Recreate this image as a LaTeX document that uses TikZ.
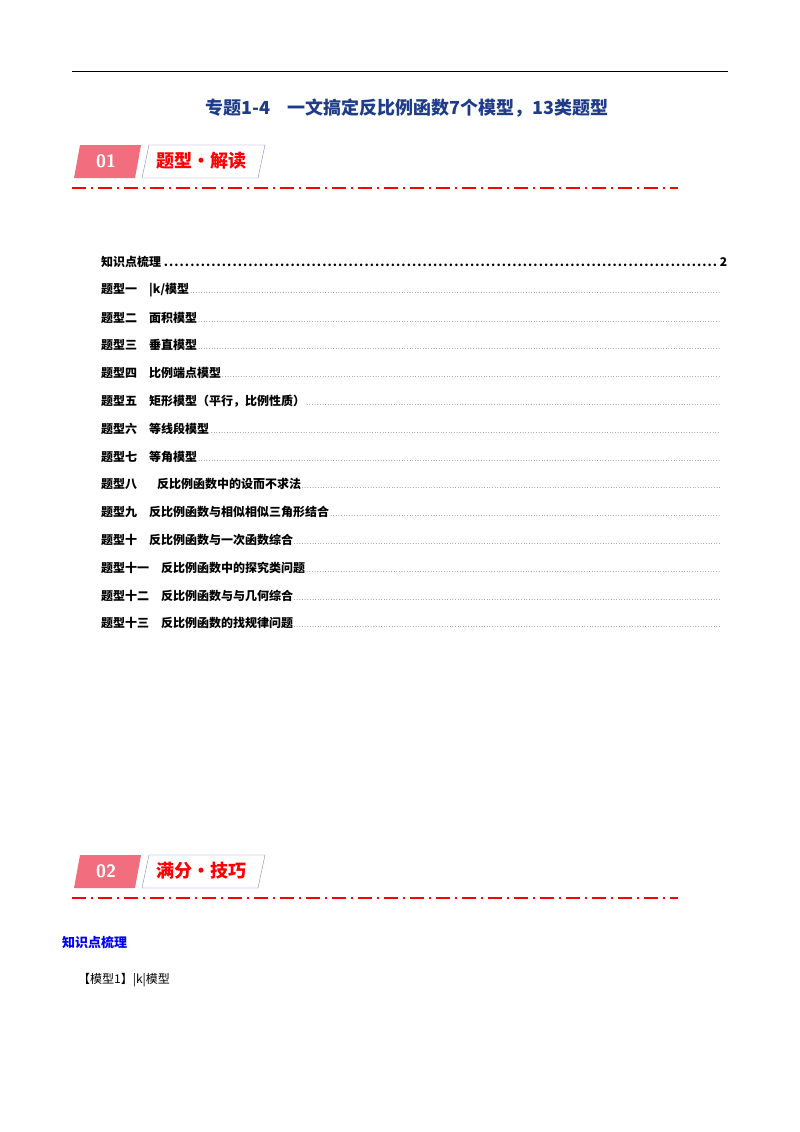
\documentclass[tikz,border=0pt]{standalone}
\usepackage{fontspec}
\newfontfamily\cjk{Noto Sans CJK SC}
\usetikzlibrary{positioning}
\definecolor{titleblue}{HTML}{1F3C88}
\definecolor{badgepink}{HTML}{F26D7D}
\definecolor{badgeedge}{HTML}{8A86C0}
\begin{document}
\begin{tikzpicture}[x=1pt,y=-1pt]
	\tikzstyle{entry}=[anchor=west, inner sep=0pt, font=\cjk\bfseries\fontsize{12}{14}\selectfont]
	\tikzstyle{redline}=[red, line width=1.6pt, dash pattern=on 14pt off 5pt on 2pt off 5pt]

	\useasboundingbox (0,0) rectangle (800,1132);
	\fill[white] (0,0) rectangle (800,1132);
	\draw[line width=1pt] (72,72) -- (728,72);
	\node (title) at (407,108) {\cjk\bfseries\fontsize{18}{21}\selectfont\color{titleblue}专题1-4\quad 一文搞定反比例函数7个模型，13类题型};

	% badges
	\foreach \y/\num/\lab in {145/01/题型•解读, 855/02/满分•技巧} {
		\fill[badgepink] (80,\y) -- (141,\y) -- (135,\y+33) -- (74,\y+33) -- cycle;
		\draw[badgeedge, fill=white] (149,\y) -- (265,\y) -- (258,\y+33) -- (142,\y+33) -- cycle;
		\node[white] at (106,\y+16) {\fontsize{18}{21}\selectfont\sffamily\bfseries\num};
		\node[red, anchor=west] at (153,\y+16) {\cjk\bfseries\fontsize{18}{21}\selectfont\lab};
		\draw[redline] (72,\y+43) -- (678,\y+43);
	}

	% contents
	\node[entry, text width=626pt] (toc0) at (101,262) {知识点梳理\dotfill 2};
	\foreach \a/\b [count=\n] in {
		题型一/{|\textit{k}/模型},
		题型二/面积模型,
		题型三/垂直模型,
		题型四/比例端点模型,
		题型五/矩形模型（平行，比例性质）,
		题型六/等线段模型,
		题型七/等角模型,
		题型八/{\ \ 反比例函数中的设而不求法},
		题型九/反比例函数与相似相似三角形结合,
		题型十/反比例函数与一次函数综合,
		题型十一/反比例函数中的探究类问题,
		题型十二/反比例函数与与几何综合,
		题型十三/反比例函数的找规律问题} {
		\node[entry, text width=620pt] (toc\n) at (101,262+27.8*\n) {\a\quad \b{\mdseries\fontsize{6}{6}\selectfont\dotfill}\hspace*{0pt}};
	}

	\node[anchor=west, inner sep=0pt] (sec) at (62,943) {\cjk\bfseries\fontsize{13}{15}\selectfont\color{blue}知识点梳理};
	\node[anchor=west, inner sep=0pt] (model) at (78,980) {\cjk\fontsize{12}{14}\selectfont【模型1】|\textit{k}|模型};
\end{tikzpicture}
\end{document}
